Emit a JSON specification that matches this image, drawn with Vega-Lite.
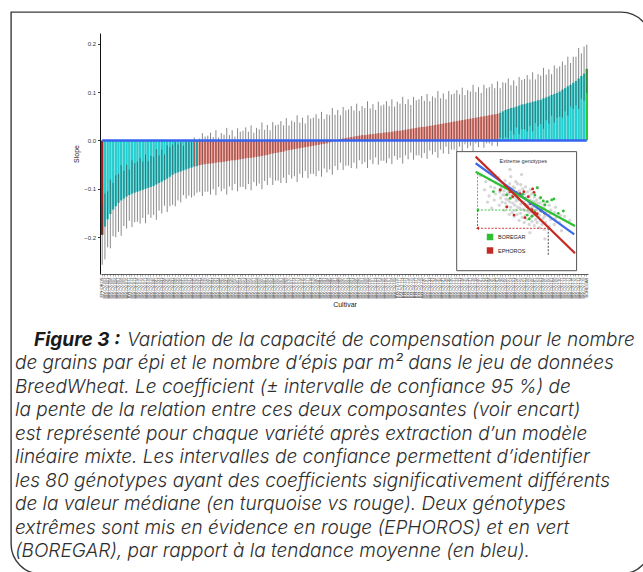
{
  "$schema": "https://vega.github.io/schema/vega-lite/v6.json",
  "width": 640,
  "height": 562,
  "autosize": {"type": "none"},
  "padding": {"left": 11, "top": 12, "right": 0, "bottom": 0},
  "background": "white",
  "config": {
    "view": {"stroke": "#3a3a3a", "strokeWidth": 1.4, "cornerRadius": 30},
    "style": {"cell": {"cornerRadiusTopLeft": 0}},
    "font": "Liberation Sans",
    "axis": {"grid": false, "labelFont": "Liberation Sans", "titleFont": "Liberation Sans"}
  },
  "datasets": {
    "bars": [
      {"c":"EPHOROS","e":-0.195,"l":-0.257,"h":-0.133,"g":"E"},
      {"c":"BW-CV-002","e":-0.178,"l":-0.246,"h":-0.110,"g":"S"},
      {"c":"BW-CV-003","e":-0.163,"l":-0.221,"h":-0.105,"g":"S"},
      {"c":"BW-CV-004","e":-0.152,"l":-0.223,"h":-0.081,"g":"S"},
      {"c":"BW-CV-005","e":-0.143,"l":-0.198,"h":-0.088,"g":"S"},
      {"c":"BW-CV-006","e":-0.136,"l":-0.200,"h":-0.072,"g":"S"},
      {"c":"BW-CV-007","e":-0.129,"l":-0.189,"h":-0.069,"g":"S"},
      {"c":"BW-CV-008","e":-0.124,"l":-0.197,"h":-0.051,"g":"S"},
      {"c":"BW-CV-009","e":-0.120,"l":-0.177,"h":-0.063,"g":"S"},
      {"c":"BW-CV-010","e":-0.116,"l":-0.182,"h":-0.050,"g":"S"},
      {"c":"BW-CV-011","e":-0.113,"l":-0.166,"h":-0.060,"g":"S"},
      {"c":"BW-CV-012","e":-0.110,"l":-0.179,"h":-0.041,"g":"S"},
      {"c":"BW-CV-013","e":-0.108,"l":-0.169,"h":-0.047,"g":"S"},
      {"c":"BW-CV-014","e":-0.106,"l":-0.168,"h":-0.044,"g":"S"},
      {"c":"BW-CV-015","e":-0.104,"l":-0.172,"h":-0.036,"g":"S"},
      {"c":"BW-CV-016","e":-0.102,"l":-0.160,"h":-0.044,"g":"S"},
      {"c":"BW-CV-017","e":-0.100,"l":-0.171,"h":-0.029,"g":"S"},
      {"c":"BW-CV-018","e":-0.098,"l":-0.153,"h":-0.043,"g":"S"},
      {"c":"BW-CV-019","e":-0.096,"l":-0.160,"h":-0.032,"g":"S"},
      {"c":"BW-CV-020","e":-0.094,"l":-0.154,"h":-0.034,"g":"S"},
      {"c":"BW-CV-021","e":-0.091,"l":-0.164,"h":-0.018,"g":"S"},
      {"c":"BW-CV-022","e":-0.088,"l":-0.145,"h":-0.031,"g":"S"},
      {"c":"BW-CV-023","e":-0.085,"l":-0.151,"h":-0.019,"g":"S"},
      {"c":"BW-CV-024","e":-0.082,"l":-0.135,"h":-0.029,"g":"S"},
      {"c":"BW-CV-025","e":-0.079,"l":-0.148,"h":-0.010,"g":"S"},
      {"c":"BW-CV-026","e":-0.075,"l":-0.136,"h":-0.014,"g":"S"},
      {"c":"BW-CV-027","e":-0.071,"l":-0.133,"h":-0.009,"g":"S"},
      {"c":"BW-CV-028","e":-0.068,"l":-0.136,"h":-0.003,"g":"S"},
      {"c":"BW-CV-029","e":-0.066,"l":-0.124,"h":-0.008,"g":"S"},
      {"c":"BW-CV-030","e":-0.064,"l":-0.128,"h":-0.004,"g":"S"},
      {"c":"BW-CV-031","e":-0.062,"l":-0.113,"h":-0.011,"g":"S"},
      {"c":"BW-CV-032","e":-0.060,"l":-0.120,"h":-0.002,"g":"S"},
      {"c":"BW-CV-033","e":-0.058,"l":-0.114,"h":-0.002,"g":"S"},
      {"c":"BW-CV-034","e":-0.056,"l":-0.118,"h":-0.003,"g":"S"},
      {"c":"BW-CV-035","e":-0.054,"l":-0.114,"h":0.006,"g":"N"},
      {"c":"BW-CV-036","e":-0.053,"l":-0.108,"h":-0.002,"g":"S"},
      {"c":"BW-CV-037","e":-0.051,"l":-0.106,"h":0.004,"g":"N"},
      {"c":"BW-CV-038","e":-0.050,"l":-0.115,"h":0.015,"g":"N"},
      {"c":"BW-CV-039","e":-0.049,"l":-0.106,"h":0.008,"g":"N"},
      {"c":"BW-CV-040","e":-0.048,"l":-0.106,"h":0.010,"g":"N"},
      {"c":"BW-CV-041","e":-0.048,"l":-0.112,"h":0.016,"g":"N"},
      {"c":"BW-CV-042","e":-0.047,"l":-0.101,"h":0.007,"g":"N"},
      {"c":"BW-CV-043","e":-0.046,"l":-0.113,"h":0.021,"g":"N"},
      {"c":"BW-CV-044","e":-0.045,"l":-0.096,"h":0.006,"g":"N"},
      {"c":"BW-CV-045","e":-0.045,"l":-0.105,"h":0.015,"g":"N"},
      {"c":"BW-CV-046","e":-0.044,"l":-0.100,"h":0.012,"g":"N"},
      {"c":"BW-CV-047","e":-0.043,"l":-0.112,"h":0.026,"g":"N"},
      {"c":"BW-CV-048","e":-0.042,"l":-0.095,"h":0.011,"g":"N"},
      {"c":"BW-CV-049","e":-0.041,"l":-0.103,"h":0.021,"g":"N"},
      {"c":"BW-CV-050","e":-0.041,"l":-0.090,"h":0.008,"g":"N"},
      {"c":"BW-CV-051","e":-0.040,"l":-0.105,"h":0.025,"g":"N"},
      {"c":"BW-CV-052","e":-0.039,"l":-0.096,"h":0.018,"g":"N"},
      {"c":"BW-CV-053","e":-0.038,"l":-0.096,"h":0.020,"g":"N"},
      {"c":"BW-CV-054","e":-0.037,"l":-0.101,"h":0.027,"g":"N"},
      {"c":"BW-CV-055","e":-0.036,"l":-0.090,"h":0.018,"g":"N"},
      {"c":"BW-CV-056","e":-0.036,"l":-0.103,"h":0.031,"g":"N"},
      {"c":"BW-CV-057","e":-0.035,"l":-0.086,"h":0.016,"g":"N"},
      {"c":"BW-CV-058","e":-0.034,"l":-0.094,"h":0.026,"g":"N"},
      {"c":"BW-CV-059","e":-0.033,"l":-0.089,"h":0.023,"g":"N"},
      {"c":"BW-CV-060","e":-0.032,"l":-0.101,"h":0.037,"g":"N"},
      {"c":"BW-CV-061","e":-0.031,"l":-0.084,"h":0.022,"g":"N"},
      {"c":"BW-CV-062","e":-0.030,"l":-0.092,"h":0.032,"g":"N"},
      {"c":"BW-CV-063","e":-0.028,"l":-0.077,"h":0.021,"g":"N"},
      {"c":"BW-CV-064","e":-0.027,"l":-0.092,"h":0.038,"g":"N"},
      {"c":"BW-CV-065","e":-0.026,"l":-0.083,"h":0.031,"g":"N"},
      {"c":"BW-CV-066","e":-0.025,"l":-0.083,"h":0.033,"g":"N"},
      {"c":"BW-CV-067","e":-0.024,"l":-0.088,"h":0.040,"g":"N"},
      {"c":"BW-CV-068","e":-0.023,"l":-0.077,"h":0.031,"g":"N"},
      {"c":"BW-CV-069","e":-0.021,"l":-0.088,"h":0.046,"g":"N"},
      {"c":"BW-CV-070","e":-0.020,"l":-0.071,"h":0.031,"g":"N"},
      {"c":"BW-CV-071","e":-0.019,"l":-0.079,"h":0.041,"g":"N"},
      {"c":"BW-CV-072","e":-0.018,"l":-0.074,"h":0.038,"g":"N"},
      {"c":"BW-CV-073","e":-0.017,"l":-0.086,"h":0.052,"g":"N"},
      {"c":"BW-CV-074","e":-0.016,"l":-0.069,"h":0.037,"g":"N"},
      {"c":"BW-CV-075","e":-0.015,"l":-0.077,"h":0.047,"g":"N"},
      {"c":"BW-CV-076","e":-0.014,"l":-0.063,"h":0.035,"g":"N"},
      {"c":"BW-CV-077","e":-0.013,"l":-0.078,"h":0.052,"g":"N"},
      {"c":"BW-CV-078","e":-0.012,"l":-0.069,"h":0.045,"g":"N"},
      {"c":"BW-CV-079","e":-0.011,"l":-0.069,"h":0.047,"g":"N"},
      {"c":"BW-CV-080","e":-0.010,"l":-0.074,"h":0.054,"g":"N"},
      {"c":"BW-CV-081","e":-0.009,"l":-0.063,"h":0.045,"g":"N"},
      {"c":"BW-CV-082","e":-0.008,"l":-0.075,"h":0.059,"g":"N"},
      {"c":"BW-CV-083","e":-0.007,"l":-0.058,"h":0.044,"g":"N"},
      {"c":"BW-CV-084","e":-0.006,"l":-0.066,"h":0.054,"g":"N"},
      {"c":"BW-CV-085","e":-0.004,"l":-0.060,"h":0.052,"g":"N"},
      {"c":"BW-CV-086","e":-0.002,"l":-0.071,"h":0.067,"g":"N"},
      {"c":"BW-CV-087","e":0.000,"l":-0.053,"h":0.053,"g":"N"},
      {"c":"BW-CV-088","e":0.001,"l":-0.061,"h":0.063,"g":"N"},
      {"c":"BW-CV-089","e":0.003,"l":-0.046,"h":0.052,"g":"N"},
      {"c":"BW-CV-090","e":0.004,"l":-0.061,"h":0.069,"g":"N"},
      {"c":"BW-CV-091","e":0.005,"l":-0.052,"h":0.062,"g":"N"},
      {"c":"BW-CV-092","e":0.006,"l":-0.052,"h":0.064,"g":"N"},
      {"c":"BW-CV-093","e":0.007,"l":-0.057,"h":0.071,"g":"N"},
      {"c":"BW-CV-094","e":0.008,"l":-0.046,"h":0.062,"g":"N"},
      {"c":"BW-CV-095","e":0.009,"l":-0.058,"h":0.076,"g":"N"},
      {"c":"BW-CV-096","e":0.010,"l":-0.041,"h":0.061,"g":"N"},
      {"c":"BW-CV-097","e":0.011,"l":-0.049,"h":0.071,"g":"N"},
      {"c":"BW-CV-098","e":0.011,"l":-0.045,"h":0.067,"g":"N"},
      {"c":"BW-CV-099","e":0.012,"l":-0.057,"h":0.081,"g":"N"},
      {"c":"BW-CV-100","e":0.013,"l":-0.040,"h":0.066,"g":"N"},
      {"c":"BW-CV-101","e":0.013,"l":-0.049,"h":0.075,"g":"N"},
      {"c":"BW-CV-102","e":0.014,"l":-0.035,"h":0.063,"g":"N"},
      {"c":"BW-CV-103","e":0.015,"l":-0.050,"h":0.080,"g":"N"},
      {"c":"BW-CV-104","e":0.015,"l":-0.042,"h":0.072,"g":"N"},
      {"c":"BW-CV-105","e":0.016,"l":-0.042,"h":0.074,"g":"N"},
      {"c":"BW-CV-106","e":0.017,"l":-0.047,"h":0.081,"g":"N"},
      {"c":"BW-CV-107","e":0.017,"l":-0.037,"h":0.071,"g":"N"},
      {"c":"BW-CV-108","e":0.018,"l":-0.049,"h":0.085,"g":"N"},
      {"c":"BW-CV-109","e":0.019,"l":-0.032,"h":0.070,"g":"N"},
      {"c":"BW-CV-110","e":0.020,"l":-0.040,"h":0.080,"g":"N"},
      {"c":"BW-CV-111","e":0.020,"l":-0.036,"h":0.076,"g":"N"},
      {"c":"BW-CV-112","e":0.021,"l":-0.048,"h":0.090,"g":"N"},
      {"c":"BW-CV-113","e":0.022,"l":-0.031,"h":0.075,"g":"N"},
      {"c":"BW-CV-114","e":0.023,"l":-0.039,"h":0.085,"g":"N"},
      {"c":"BW-CV-115","e":0.024,"l":-0.025,"h":0.073,"g":"N"},
      {"c":"BW-CV-116","e":0.025,"l":-0.040,"h":0.090,"g":"N"},
      {"c":"BW-CV-117","e":0.026,"l":-0.031,"h":0.083,"g":"N"},
      {"c":"BW-CV-118","e":0.027,"l":-0.031,"h":0.085,"g":"N"},
      {"c":"BW-CV-119","e":0.028,"l":-0.036,"h":0.092,"g":"N"},
      {"c":"BW-CV-120","e":0.028,"l":-0.026,"h":0.082,"g":"N"},
      {"c":"BW-CV-121","e":0.029,"l":-0.038,"h":0.096,"g":"N"},
      {"c":"BW-CV-122","e":0.030,"l":-0.021,"h":0.081,"g":"N"},
      {"c":"BW-CV-123","e":0.031,"l":-0.029,"h":0.091,"g":"N"},
      {"c":"BW-CV-124","e":0.032,"l":-0.024,"h":0.088,"g":"N"},
      {"c":"BW-CV-125","e":0.033,"l":-0.036,"h":0.102,"g":"N"},
      {"c":"BW-CV-126","e":0.034,"l":-0.019,"h":0.087,"g":"N"},
      {"c":"BW-CV-127","e":0.035,"l":-0.027,"h":0.097,"g":"N"},
      {"c":"BW-CV-128","e":0.036,"l":-0.013,"h":0.085,"g":"N"},
      {"c":"BW-CV-129","e":0.037,"l":-0.028,"h":0.102,"g":"N"},
      {"c":"BW-CV-130","e":0.038,"l":-0.019,"h":0.095,"g":"N"},
      {"c":"BW-CV-131","e":0.039,"l":-0.019,"h":0.097,"g":"N"},
      {"c":"BW-CV-132","e":0.040,"l":-0.024,"h":0.104,"g":"N"},
      {"c":"BW-CV-133","e":0.041,"l":-0.013,"h":0.095,"g":"N"},
      {"c":"BW-CV-134","e":0.042,"l":-0.025,"h":0.109,"g":"N"},
      {"c":"BW-CV-135","e":0.043,"l":-0.008,"h":0.094,"g":"N"},
      {"c":"BW-CV-136","e":0.044,"l":-0.016,"h":0.104,"g":"N"},
      {"c":"BW-CV-137","e":0.045,"l":-0.011,"h":0.101,"g":"N"},
      {"c":"BW-CV-138","e":0.046,"l":-0.023,"h":0.115,"g":"N"},
      {"c":"BW-CV-139","e":0.047,"l":-0.006,"h":0.100,"g":"N"},
      {"c":"BW-CV-140","e":0.048,"l":-0.014,"h":0.110,"g":"N"},
      {"c":"BW-CV-141","e":0.049,"l":-0.002,"h":0.098,"g":"N"},
      {"c":"BW-CV-142","e":0.050,"l":-0.015,"h":0.115,"g":"N"},
      {"c":"BW-CV-143","e":0.051,"l":-0.006,"h":0.108,"g":"N"},
      {"c":"BW-CV-144","e":0.052,"l":-0.006,"h":0.110,"g":"N"},
      {"c":"BW-CV-145","e":0.053,"l":-0.011,"h":0.117,"g":"N"},
      {"c":"BW-CV-146","e":0.054,"l":-0.003,"h":0.108,"g":"N"},
      {"c":"BW-CV-147","e":0.055,"l":-0.012,"h":0.122,"g":"N"},
      {"c":"BW-CV-148","e":0.057,"l":0.006,"h":0.108,"g":"S"},
      {"c":"BW-CV-149","e":0.060,"l":0.004,"h":0.120,"g":"S"},
      {"c":"BW-CV-150","e":0.063,"l":0.007,"h":0.119,"g":"S"},
      {"c":"BW-CV-151","e":0.065,"l":0.005,"h":0.128,"g":"S"},
      {"c":"BW-CV-152","e":0.067,"l":0.020,"h":0.114,"g":"S"},
      {"c":"BW-CV-153","e":0.068,"l":0.012,"h":0.124,"g":"S"},
      {"c":"BW-CV-154","e":0.070,"l":0.027,"h":0.113,"g":"S"},
      {"c":"BW-CV-155","e":0.072,"l":0.013,"h":0.131,"g":"S"},
      {"c":"BW-CV-156","e":0.074,"l":0.023,"h":0.125,"g":"S"},
      {"c":"BW-CV-157","e":0.075,"l":0.023,"h":0.127,"g":"S"},
      {"c":"BW-CV-158","e":0.077,"l":0.019,"h":0.135,"g":"S"},
      {"c":"BW-CV-159","e":0.078,"l":0.030,"h":0.126,"g":"S"},
      {"c":"BW-CV-160","e":0.080,"l":0.019,"h":0.141,"g":"S"},
      {"c":"BW-CV-161","e":0.081,"l":0.036,"h":0.126,"g":"S"},
      {"c":"BW-CV-162","e":0.083,"l":0.029,"h":0.137,"g":"S"},
      {"c":"BW-CV-163","e":0.084,"l":0.034,"h":0.134,"g":"S"},
      {"c":"BW-CV-164","e":0.087,"l":0.024,"h":0.150,"g":"S"},
      {"c":"BW-CV-165","e":0.089,"l":0.042,"h":0.136,"g":"S"},
      {"c":"BW-CV-166","e":0.091,"l":0.035,"h":0.147,"g":"S"},
      {"c":"BW-CV-167","e":0.094,"l":0.051,"h":0.137,"g":"S"},
      {"c":"BW-CV-168","e":0.096,"l":0.037,"h":0.155,"g":"S"},
      {"c":"BW-CV-169","e":0.098,"l":0.047,"h":0.149,"g":"S"},
      {"c":"BW-CV-170","e":0.101,"l":0.049,"h":0.153,"g":"S"},
      {"c":"BW-CV-171","e":0.105,"l":0.047,"h":0.163,"g":"S"},
      {"c":"BW-CV-172","e":0.108,"l":0.060,"h":0.156,"g":"S"},
      {"c":"BW-CV-173","e":0.112,"l":0.051,"h":0.173,"g":"S"},
      {"c":"BW-CV-174","e":0.115,"l":0.070,"h":0.160,"g":"S"},
      {"c":"BW-CV-175","e":0.119,"l":0.065,"h":0.173,"g":"S"},
      {"c":"BW-CV-176","e":0.123,"l":0.073,"h":0.173,"g":"S"},
      {"c":"BW-CV-177","e":0.128,"l":0.065,"h":0.191,"g":"S"},
      {"c":"BW-CV-178","e":0.133,"l":0.086,"h":0.180,"g":"S"},
      {"c":"BW-CV-179","e":0.138,"l":0.082,"h":0.194,"g":"S"},
      {"c":"BOREGAR","e":0.148,"l":0.098,"h":0.198,"g":"B"}
    ],
    "cloud": [
      {"m":268,"s":70},{"m":273,"s":78},{"m":288,"s":64},{"m":295,"s":73},{"m":290,"s":80},
      {"m":312,"s":60},{"m":318,"s":66},{"m":314,"s":72},{"m":320,"s":77},{"m":317,"s":84},
      {"m":338,"s":55},{"m":345,"s":62},{"m":340,"s":68},{"m":347,"s":71},{"m":343,"s":75},{"m":336,"s":82},
      {"m":366,"s":50},{"m":372,"s":57},{"m":375,"s":61},{"m":368,"s":65},{"m":364,"s":69},{"m":374,"s":74},{"m":370,"s":79},
      {"m":396,"s":46},{"m":404,"s":53},{"m":399,"s":58},{"m":407,"s":62},{"m":393,"s":66},{"m":402,"s":70},{"m":398,"s":76},{"m":405,"s":83},
      {"m":428,"s":44},{"m":437,"s":50},{"m":431,"s":55},{"m":440,"s":59},{"m":426,"s":63},{"m":435,"s":67},{"m":430,"s":72},{"m":438,"s":78},
      {"m":462,"s":40},{"m":472,"s":47},{"m":466,"s":52},{"m":475,"s":56},{"m":460,"s":60},{"m":470,"s":64},{"m":465,"s":69},{"m":474,"s":75},
      {"m":500,"s":38},{"m":510,"s":45},{"m":504,"s":50},{"m":513,"s":54},{"m":498,"s":58},{"m":508,"s":62},{"m":502,"s":66},{"m":511,"s":73},
      {"m":541,"s":36},{"m":552,"s":43},{"m":545,"s":48},{"m":555,"s":52},{"m":538,"s":56},{"m":549,"s":60},{"m":543,"s":64},{"m":553,"s":70},
      {"m":586,"s":35},{"m":598,"s":41},{"m":590,"s":46},{"m":600,"s":50},{"m":583,"s":54},{"m":595,"s":58},{"m":588,"s":63},
      {"m":634,"s":33},{"m":648,"s":40},{"m":638,"s":45},{"m":650,"s":49},{"m":630,"s":53},{"m":645,"s":57},{"m":640,"s":62},
      {"m":686,"s":31},{"m":700,"s":38},{"m":690,"s":44},{"m":703,"s":48},{"m":684,"s":52},{"m":696,"s":58},
      {"m":742,"s":34},{"m":758,"s":41},{"m":746,"s":46},{"m":760,"s":50},{"m":740,"s":55},
      {"m":803,"s":36},{"m":818,"s":42},{"m":808,"s":48},{"m":820,"s":53},
      {"m":870,"s":38},{"m":885,"s":45},{"m":945,"s":44},
      {"m":250,"s":84},{"m":281,"s":58},{"m":1026,"s":40},{"m":693,"s":22},{"m":400,"s":90},{"m":547,"s":28},{"m":300,"s":52},{"m":900,"s":30},{"m":480,"s":85},{"m":620,"s":72},
      {"m":414,"s":48},{"m":418,"s":57},{"m":412,"s":65},{"m":420,"s":73},
      {"m":448,"s":46},{"m":452,"s":53},{"m":446,"s":61},{"m":455,"s":68},{"m":450,"s":76},
      {"m":485,"s":43},{"m":490,"s":51},{"m":483,"s":58},{"m":492,"s":66},{"m":488,"s":71},
      {"m":522,"s":41},{"m":530,"s":49},{"m":524,"s":55},{"m":532,"s":63},{"m":527,"s":68},
      {"m":565,"s":39},{"m":572,"s":45},{"m":567,"s":53},{"m":575,"s":59},{"m":563,"s":66},
      {"m":612,"s":38},{"m":620,"s":44},{"m":614,"s":51},{"m":622,"s":57},{"m":610,"s":60},
      {"m":662,"s":36},{"m":672,"s":42},{"m":665,"s":50},{"m":675,"s":55},
      {"m":382,"s":54},{"m":388,"s":60},{"m":384,"s":67},{"m":390,"s":72},
      {"m":354,"s":58},{"m":358,"s":65},{"m":352,"s":73}
    ],
    "pts": [
      {"grp":"BOREGAR","m":308,"s":68.2},{"grp":"BOREGAR","m":345,"s":69.9},{"grp":"BOREGAR","m":380,"s":65.0},
      {"grp":"BOREGAR","m":468,"s":65.0},{"grp":"BOREGAR","m":506,"s":61.7},{"grp":"BOREGAR","m":592,"s":65.0},
      {"grp":"BOREGAR","m":614,"s":72.1},{"grp":"BOREGAR","m":648,"s":62.3},{"grp":"BOREGAR","m":674,"s":59.1},
      {"grp":"BOREGAR","m":693,"s":55.2},{"grp":"BOREGAR","m":719,"s":58.4},{"grp":"BOREGAR","m":771,"s":60.1},
      {"grp":"BOREGAR","m":798,"s":61.0},{"grp":"BOREGAR","m":525,"s":45.3},{"grp":"BOREGAR","m":542,"s":41.4},
      {"grp":"BOREGAR","m":565,"s":44.1},{"grp":"BOREGAR","m":583,"s":48.6},{"grp":"BOREGAR","m":658,"s":49.3},
      {"grp":"BOREGAR","m":855,"s":47.0},{"grp":"BOREGAR","m":925,"s":49.3},{"grp":"BOREGAR","m":488,"s":65.7},
      {"grp":"BOREGAR","m":400,"s":61.7},
      {"grp":"EPHOROS","m":342,"s":69.9},{"grp":"EPHOROS","m":370,"s":74.1},{"grp":"EPHOROS","m":400,"s":68.2},
      {"grp":"EPHOROS","m":417,"s":63.3},{"grp":"EPHOROS","m":439,"s":67.6},{"grp":"EPHOROS","m":468,"s":66.2},
      {"grp":"EPHOROS","m":498,"s":68.2},{"grp":"EPHOROS","m":571,"s":70.9},{"grp":"EPHOROS","m":583,"s":67.6},
      {"grp":"EPHOROS","m":533,"s":63.3},{"grp":"EPHOROS","m":506,"s":55.8},{"grp":"EPHOROS","m":525,"s":53.2},
      {"grp":"EPHOROS","m":553,"s":56.4},{"grp":"EPHOROS","m":565,"s":50.5},{"grp":"EPHOROS","m":592,"s":47.6},
      {"grp":"EPHOROS","m":614,"s":46.6},{"grp":"EPHOROS","m":648,"s":50.0},{"grp":"EPHOROS","m":690,"s":47.0},
      {"grp":"EPHOROS","m":380,"s":53.2},{"grp":"EPHOROS","m":426,"s":45.3},{"grp":"EPHOROS","m":506,"s":42.7}
    ],
    "lines": [
      {"grp":"Moyenne","m":233,"s":96.1},{"grp":"Moyenne","m":1099,"s":26.4},
      {"grp":"BOREGAR","m":233,"s":87.8},{"grp":"BOREGAR","m":1112,"s":34.5},
      {"grp":"EPHOROS","m":233,"s":102.6},{"grp":"EPHOROS","m":1112,"s":7.8}
    ],
    "guides": [
      {"grp":"BOREGAR","m1":240,"s1":50.2,"m2":611,"s2":50.2},
      {"grp":"EPHOROS","m1":240,"s1":32.3,"m2":730,"s2":32.3},
      {"grp":"Repère","m1":730,"s1":32.3,"m2":730,"s2":6.1},
      {"grp":"BOREGAR","m1":240,"s1":86.3,"m2":240,"s2":50.2},
      {"grp":"EPHOROS","m1":240,"s1":50.2,"m2":240,"s2":32.3}
    ],
    "arrows": [
      {"grp":"BOREGAR","m":240,"s":50.2},
      {"grp":"EPHOROS","m":240,"s":32.3}
    ],
    "caption": [
      {"n":1,"t":"Variation de la capacité de compensation pour le nombre"},
      {"n":2,"t":"de grains par épi et le nombre d’épis par m² dans le jeu de données"},
      {"n":3,"t":"BreedWheat. Le coefficient (± intervalle de confiance 95 %) de"},
      {"n":4,"t":"la pente de la relation entre ces deux composantes (voir encart)"},
      {"n":5,"t":"est représenté pour chaque variété après extraction d’un modèle"},
      {"n":6,"t":"linéaire mixte. Les intervalles de confiance permettent d’identifier"},
      {"n":7,"t":"les 80 génotypes ayant des coefficients significativement différents"},
      {"n":8,"t":"de la valeur médiane (en turquoise vs rouge). Deux génotypes"},
      {"n":9,"t":"extrêmes sont mis en évidence en rouge (EPHOROS) et en vert"},
      {"n":10,"t":"(BOREGAR), par rapport à la tendance moyenne (en bleu)."}
    ]
  },
  "layer": [
    {
      "data": {"name": "bars"},
      "layer": [
        {
          "mark": {"type": "bar"},
          "encoding": {
            "x": {"field": "c", "type": "nominal", "sort": null,
              "scale": {"type": "band", "range": [90, 577], "paddingInner": 0.1, "paddingOuter": 0},
              "axis": {"orient": "bottom", "offset": -300, "title": "Cultivar", "titleFontSize": 7, "titleFontWeight": "normal", "titleColor": "#222", "titlePadding": 2,
                "labelAngle": -90, "labelFontSize": 4, "labelColor": "#444", "labelOverlap": false, "labelBound": false, "labelPadding": 1,
                "tickSize": 2, "tickColor": "#555", "tickWidth": 0.5, "domainColor": "#333", "domainWidth": 0.8}},
            "y": {"field": "e", "type": "quantitative",
              "scale": {"domain": [-0.276, 0.222], "range": [262, 21], "nice": false, "zero": false},
              "axis": {"orient": "left", "offset": -89, "values": [-0.2, -0.1, 0, 0.1, 0.2], "format": ".1f",
                "labelFontSize": 6, "labelColor": "#333", "tickSize": 2.5, "tickColor": "#333", "domainColor": "#111", "domainWidth": 1,
                "title": "Slope", "titleFontSize": 7, "titleFontWeight": "normal", "titleColor": "#222", "titlePadding": 4}},
            "y2": {"datum": 0},
            "color": {"field": "g", "type": "nominal",
              "scale": {"domain": ["E", "S", "N", "B"], "range": ["#a3201e", "#26cdcf", "#ef7d72", "#2ec63a"]},
              "legend": null}
          }
        },
        {
          "mark": {"type": "rule", "color": "#3a3a3a", "strokeWidth": 0.6},
          "encoding": {
            "x": {"field": "c", "type": "nominal", "sort": null},
            "y": {"field": "l", "type": "quantitative"},
            "y2": {"field": "h"}
          }
        },
        {
          "data": {"values": [{"slope": 0, "first": "EPHOROS", "last": "BOREGAR"}]},
          "mark": {"type": "rule", "color": "#3563f0", "strokeWidth": 2.4},
          "encoding": {
            "x": {"field": "first", "type": "nominal", "sort": null},
            "x2": {"field": "last"},
            "y": {"field": "slope", "type": "quantitative"}
          }
        }
      ]
    },
    {
      "layer": [
        {
          "data": {"values": [{"panel": "Extreme genotypes"}]},
          "mark": {"type": "rect", "fill": "white", "stroke": "#555", "strokeWidth": 1},
          "encoding": {
            "x": {"datum": 173, "type": "quantitative",
              "scale": {"type": "log", "domain": [230.7, 1112], "range": [464, 564], "nice": false},
              "axis": {"orient": "bottom", "offset": -319, "values": [300, 500, 1000], "format": "d",
                "labelFontSize": 4.5, "labelColor": "#444", "tickSize": 2, "tickColor": "#666", "domainColor": "#666",
                "title": "NGM2", "titleFontSize": 5.5, "titleFontWeight": "bold", "titleColor": "#333", "titlePadding": 1}},
            "x2": {"datum": 1140},
            "y": {"datum": -9.3, "type": "quantitative",
              "scale": {"domain": [6.1, 104.2], "range": [243, 143], "nice": false, "zero": false},
              "axis": {"orient": "left", "offset": -464, "values": [10, 50, 100],
                "labelFontSize": 4.5, "labelColor": "#444", "tickSize": 2, "tickColor": "#666", "domainColor": "#666",
                "title": "NGS", "titleFontSize": 5.5, "titleFontWeight": "bold", "titleColor": "#333", "titlePadding": 1}},
            "y2": {"datum": 107.5}
          }
        },
        {
          "data": {"name": "cloud"},
          "mark": {"type": "circle", "color": "#c8c8c8", "opacity": 0.75, "size": 11},
          "encoding": {
            "x": {"field": "m", "type": "quantitative"},
            "y": {"field": "s", "type": "quantitative"}
          }
        },
        {
          "data": {"name": "pts"},
          "mark": {"type": "circle", "size": 8, "opacity": 1},
          "encoding": {
            "x": {"field": "m", "type": "quantitative"},
            "y": {"field": "s", "type": "quantitative"},
            "color": {"field": "grp", "type": "nominal",
              "scale": {"domain": ["BOREGAR", "EPHOROS"], "range": ["#2fbf35", "#c42a24"]},
              "legend": {"orient": "none", "legendX": 475, "legendY": 221, "title": null, "symbolType": "square", "symbolSize": 42, "symbolOpacity": 1,
                "labelFontSize": 5.5, "labelFont": "Liberation Sans", "labelColor": "#222", "rowPadding": 5.5, "labelOffset": 4, "padding": 0}}
          }
        },
        {
          "data": {"name": "guides"},
          "mark": {"type": "rule", "strokeDash": [2, 1.5], "strokeWidth": 0.9},
          "encoding": {
            "x": {"field": "m1", "type": "quantitative"},
            "x2": {"field": "m2"},
            "y": {"field": "s1", "type": "quantitative"},
            "y2": {"field": "s2"},
            "stroke": {"field": "grp", "type": "nominal",
              "scale": {"domain": ["BOREGAR", "EPHOROS", "Moyenne", "Repère"], "range": ["#2fbf35", "#c42a24", "#3d6ae6", "#333333"]},
              "legend": null}
          }
        },
        {
          "data": {"name": "lines"},
          "mark": {"type": "line", "strokeWidth": 2.2},
          "encoding": {
            "x": {"field": "m", "type": "quantitative"},
            "y": {"field": "s", "type": "quantitative"},
            "stroke": {"field": "grp", "type": "nominal", "legend": null}
          }
        },
        {
          "data": {"name": "arrows"},
          "mark": {"type": "point", "shape": "triangle-left", "filled": true, "size": 12, "opacity": 1},
          "encoding": {
            "x": {"field": "m", "type": "quantitative"},
            "y": {"field": "s", "type": "quantitative"},
            "color": {"field": "grp", "type": "nominal"}
          }
        },
        {
          "data": {"values": [{"panel": "Extreme genotypes"}]},
          "mark": {"type": "text", "fontSize": 5.5, "color": "#333", "align": "center", "baseline": "middle"},
          "encoding": {
            "x": {"datum": 493, "type": "quantitative"},
            "y": {"datum": 98.3, "type": "quantitative"},
            "text": {"field": "panel"}
          }
        }
      ]
    },
    {
      "data": {"name": "caption"},
      "layer": [
        {
          "transform": [{"filter": "datum.n > 1"}],
          "mark": {"type": "text", "align": "left", "baseline": "middle", "font": "Inter", "fontStyle": "italic", "fontWeight": 300, "fontSize": 19, "color": "#2e2e2e"},
          "encoding": {
            "x": {"datum": 0, "type": "quantitative", "scale": {"domain": [0, 1], "range": [4, 600]}, "axis": null},
            "y": {"field": "n", "type": "quantitative", "scale": {"domain": [1, 10], "range": [328, 539]}, "axis": null},
            "text": {"field": "t"}
          }
        },
        {
          "transform": [{"filter": "datum.n == 1"}],
          "mark": {"type": "text", "align": "left", "baseline": "middle", "font": "Inter", "fontStyle": "italic", "fontWeight": 300, "fontSize": 19, "color": "#2e2e2e", "dx": 112},
          "encoding": {
            "x": {"datum": 0, "type": "quantitative"},
            "y": {"field": "n", "type": "quantitative"},
            "text": {"field": "t"}
          }
        },
        {
          "data": {"values": [{"n": 1, "t": "Figure 3 :"}]},
          "mark": {"type": "text", "align": "left", "baseline": "middle", "font": "Inter", "fontStyle": "italic", "fontWeight": "bold", "fontSize": 19, "color": "#1a1a1a", "dx": 19},
          "encoding": {
            "x": {"datum": 0, "type": "quantitative"},
            "y": {"field": "n", "type": "quantitative"},
            "text": {"field": "t"}
          }
        }
      ]
    }
  ],
  "resolve": {
    "scale": {"x": "independent", "y": "independent", "color": "independent"},
    "axis": {"x": "independent", "y": "independent"}
  }
}
